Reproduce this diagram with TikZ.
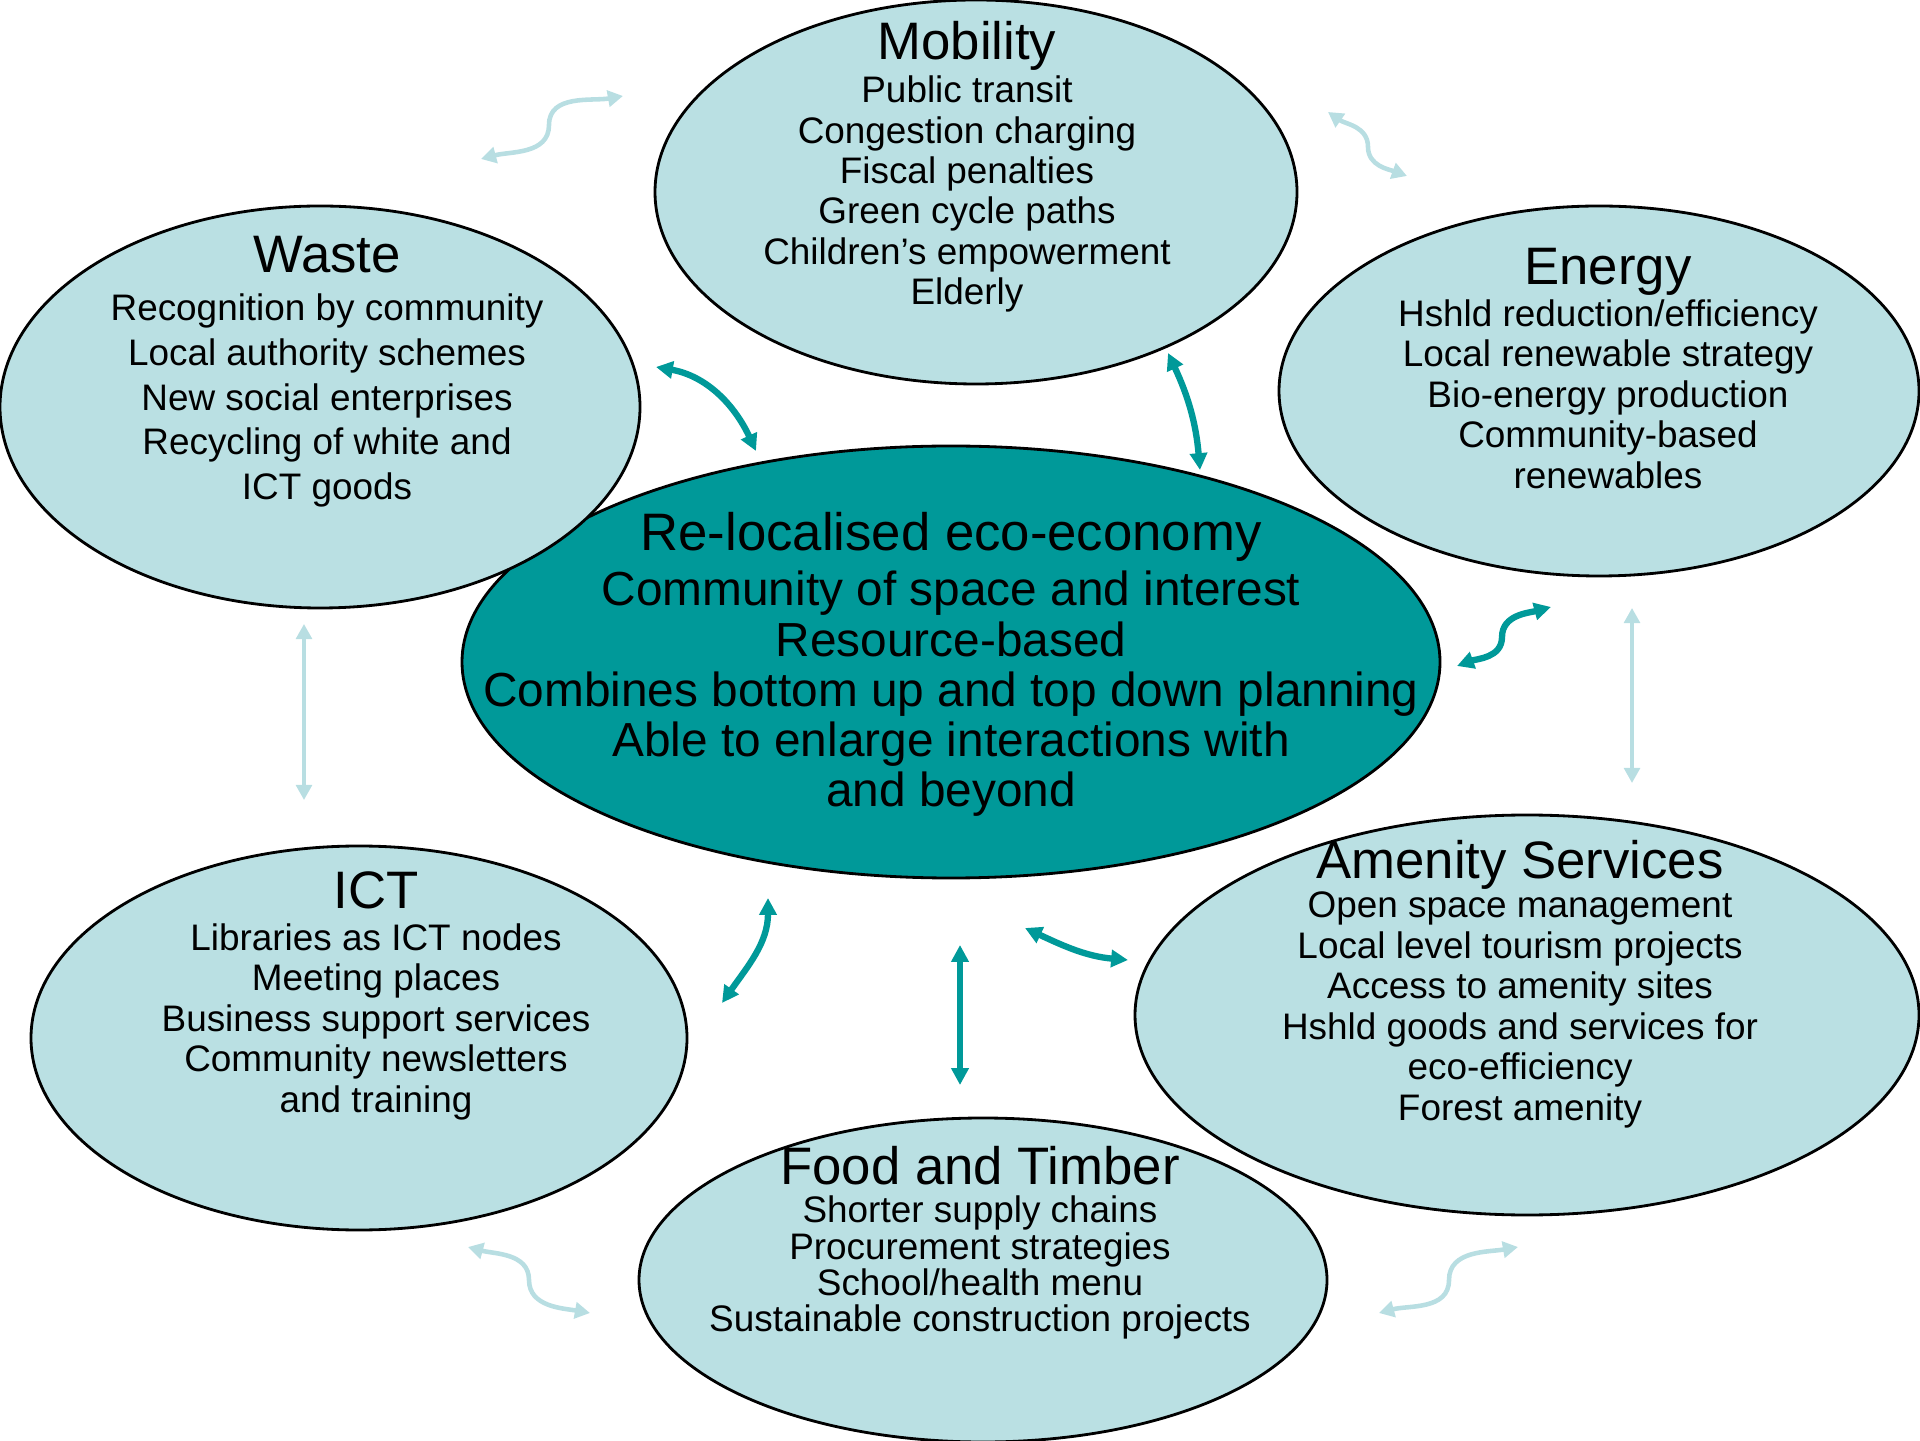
\documentclass[tikz,border=0pt]{standalone}
\usepackage{fontspec}
\setmainfont{Liberation Sans}
\usepackage{xcolor}
\usetikzlibrary{shapes.geometric,arrows.meta,positioning}

\definecolor{topicfill}{HTML}{BAE0E3}
\definecolor{hubfill}{HTML}{009999}
\definecolor{palelink}{HTML}{B8DEE2}

\tikzset{
    topic/.style={ellipse, draw=black, line width=0.8pt, fill=topicfill, inner sep=0pt},
    hub/.style={ellipse, draw=black, line width=0.8pt, fill=hubfill, inner sep=0pt},
    topictext/.style={align=center, inner sep=0pt, anchor=north, font=\fontsize{10.5}{11.5}\selectfont},
    linkpale/.style={{Triangle[length=4.3pt,width=4.6pt]}-{Triangle[length=4.3pt,width=4.6pt]}, draw=palelink, line width=1.3pt},
    linkthin/.style={{Triangle[length=4.3pt,width=4.5pt]}-{Triangle[length=4.3pt,width=4.5pt]}, draw=palelink, line width=1pt},
    linkdark/.style={{Triangle[length=4.8pt,width=4.8pt]}-{Triangle[length=4.8pt,width=4.8pt]}, draw=hubfill, line width=1.8pt}
}
\newcommand{\heading}[1]{{\fontsize{15}{16}\selectfont #1}}

\begin{document}
\begin{tikzpicture}
    \useasboundingbox (0,0) rectangle (19.2,14.4);

    % Ellipses
    \node[hub, minimum width=9.78cm, minimum height=4.32cm] (hub) at (9.51,7.78) {};
    \node[topic, minimum width=6.40cm, minimum height=4.02cm] (waste) at (3.20,10.33) {};
    \node[topic, minimum width=6.42cm, minimum height=3.84cm] (mobility) at (9.76,12.48) {};
    \node[topic, minimum width=6.40cm, minimum height=3.70cm] (energy) at (15.99,10.49) {};
    \node[topic, minimum width=6.56cm, minimum height=3.84cm] (ict) at (3.59,4.02) {};
    \node[topic, minimum width=7.84cm, minimum height=4.00cm] (amenity) at (15.27,4.25) {};
    \node[topic, minimum width=6.88cm, minimum height=3.24cm] (food) at (9.83,1.60) {};

    % Texts
    \node[topictext] (mobilitytext) at (9.67,14.19) {\heading{Mobility}\\[0.66pt]
        Public transit\\ Congestion charging\\ Fiscal penalties\\
        Green cycle paths\\ Children’s empowerment\\ Elderly};
    \node[topictext, font=\fontsize{10.5}{12.7}\selectfont] (wastetext) at (3.27,12.04) {\heading{Waste}\\[0.9pt]
        Recognition by community\\ Local authority schemes\\
        New social enterprises\\ Recycling of white and\\ ICT goods};
    \node[topictext] (energytext) at (16.08,11.92) {\heading{Energy}\\[0.3pt]
        Hshld reduction/efficiency\\ Local renewable strategy\\
        Bio-energy production\\ Community-based\\ renewables};
    \node[topictext, font=\fontsize{13.6}{14.3}\selectfont] (hubtext) at (9.51,9.28) {\heading{Re-localised eco-economy}\\[1.35pt]
        Community of space and interest\\ Resource-based\\
        Combines bottom up and top down planning\\
        Able to enlarge interactions with\\ and beyond};
    \node[topictext] (icttext) at (3.76,5.69) {\heading{ICT}\\[0.4pt]
        Libraries as ICT nodes\\ Meeting places\\ Business support services\\
        Community newsletters\\ and training};
    \node[topictext] (amenitytext) at (15.20,6.00) {\heading{Amenity Services}\\[-0.4pt]
        Open space management\\ Local level tourism projects\\
        Access to amenity sites\\ Hshld goods and services for\\
        eco-efficiency\\ Forest amenity};
    \node[topictext, font=\fontsize{10.5}{10.3}\selectfont] (foodtext) at (9.80,2.94) {\heading{Food and Timber}\\[0.5pt]
        Shorter supply chains\\ Procurement strategies\\
        School/health menu\\ Sustainable construction projects};

    % Link end points
    \coordinate (wm1) at (4.81,12.81); \coordinate (wm2) at (5.49,13.15); \coordinate (wm3) at (6.23,13.44);
    \coordinate (me1) at (13.28,13.28); \coordinate (me2) at (13.68,12.93); \coordinate (me3) at (14.07,12.64);
    \coordinate (wi1) at (3.04,8.16); \coordinate (wi2) at (3.04,6.40);
    \coordinate (ea1) at (16.32,8.32); \coordinate (ea2) at (16.32,6.57);
    \coordinate (if1) at (4.68,1.93); \coordinate (if2) at (5.29,1.60); \coordinate (if3) at (5.90,1.27);
    \coordinate (fa1) at (13.79,1.27); \coordinate (fa2) at (14.49,1.60); \coordinate (fa3) at (15.18,1.93);
    \coordinate (hw1) at (6.56,10.73); \coordinate (hw2) at (7.56,9.89);
    \coordinate (hm1) at (11.68,10.87); \coordinate (hm2) at (12.00,9.70);
    \coordinate (he1) at (14.57,7.74); \coordinate (he2) at (15.02,8.03); \coordinate (he3) at (15.51,8.33);
    \coordinate (hi1) at (7.68,5.42); \coordinate (hi2) at (7.22,4.37);
    \coordinate (hf1) at (9.60,4.95); \coordinate (hf2) at (9.60,3.55);
    \coordinate (ha1) at (10.25,5.12); \coordinate (ha2) at (11.28,4.80);

    % Outer links
    \draw[linkpale] (wm1) to[out=15,in=-90] (wm2) to[out=90,in=190] (wm3);
    \draw[linkpale] (me1) to[out=-35,in=90] (me2) to[out=-90,in=160] (me3);
    \draw[linkthin] (wi1) -- (wi2);
    \draw[linkthin] (ea1) -- (ea2);
    \draw[linkpale] (if1) to[out=-15,in=90] (if2) to[out=-90,in=170] (if3);
    \draw[linkpale] (fa1) to[out=15,in=-90] (fa2) to[out=90,in=190] (fa3);

    % Links to the hub
    \draw[linkdark] (hw1) to[out=-10,in=115] (hw2);
    \draw[linkdark] (hm1) to[out=-65,in=95] (hm2);
    \draw[linkdark] (he1) to[out=20,in=-90] (he2) to[out=90,in=195] (he3);
    \draw[linkdark] (hi1) to[out=-90,in=55] (hi2);
    \draw[linkdark] (hf1) -- (hf2);
    \draw[linkdark] (ha1) to[out=-25,in=175] (ha2);
\end{tikzpicture}
\end{document}
